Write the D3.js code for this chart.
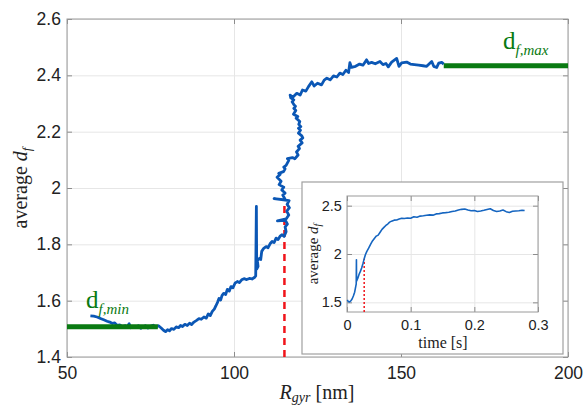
<!DOCTYPE html>
<html>
<head>
<meta charset="utf-8">
<script src="https://cdn.jsdelivr.net/npm/d3@7"></script>
<style>
  body { margin: 0; background: #fff; }
  svg { display: block; }
  .tick text { font-family: "Liberation Sans", Arial, sans-serif; fill: #222; }
  .serif { font-family: "Liberation Serif", "Times New Roman", serif; }
</style>
</head>
<body>
<svg id="chart"></svg>
<script>
// main trajectory: average fractal dimension vs radius of gyration
const rGyr = [57.0,58.0,59.0,60.2,61.0,62.0,62.8,63.6,64.3,65.0,65.8,66.6,67.4,68.0,68.6,69.1,69.8,70.6,71.4,72.1,72.8,73.5,74.2,75.0,75.8,76.6,77.4,78.2,78.9,79.5,80.1,80.7,81.3,82.0,82.7,83.4,84.0,84.6,85.3,86.0,86.7,87.3,88.0,88.8,89.5,90.2,91.0,91.7,92.3,92.9,93.5,94.1,94.6,95.1,95.5,96.0,96.4,96.9,97.5,98.0,98.6,99.1,99.7,100.3,101.0,101.6,102.3,103.0,103.8,104.6,105.4,106.1,106.5,106.7,106.8,107.2,107.0,107.6,108.0,108.3,108.9,109.6,110.2,110.8,111.4,112.0,112.6,113.2,113.8,114.4,115.0,115.6,115.3,116.0,115.4,113.0,115.6,116.4,115.8,116.6,115.9,116.5,112.0,115.4,114.6,115.3,114.3,114.9,113.5,114.1,112.9,113.8,113.4,114.8,115.3,114.9,115.6,116.4,116.0,117.5,118.2,119.2,118.7,119.6,119.2,120.4,119.8,120.6,120.3,119.3,119.9,119.3,120.0,119.4,119.7,118.6,119.1,117.8,118.5,117.9,118.4,118.0,117.4,117.9,117.0,116.8,117.6,118.8,119.8,120.5,121.5,122.3,123.3,124.0,125.0,126.2,127.0,127.8,128.8,129.8,130.8,131.7,132.6,133.5,134.3,134.7,135.2,136.4,137.6,138.6,139.7,140.3,141.2,142.3,143.7,144.6,145.5,146.2,147.2,148.7,149.4,150.2,151.7,152.8,154.0,155.3,156.6,157.7,158.4,159.2,159.8,160.7,161.3,162.2,162.8];
const dfAvg = [1.546,1.545,1.542,1.536,1.532,1.527,1.524,1.519,1.521,1.512,1.514,1.508,1.511,1.507,1.518,1.504,1.509,1.506,1.511,1.502,1.507,1.511,1.503,1.509,1.513,1.507,1.511,1.503,1.495,1.490,1.497,1.493,1.501,1.498,1.507,1.504,1.512,1.508,1.516,1.512,1.520,1.515,1.524,1.530,1.536,1.534,1.542,1.538,1.553,1.547,1.562,1.570,1.582,1.595,1.608,1.602,1.618,1.626,1.622,1.640,1.634,1.650,1.646,1.662,1.668,1.664,1.674,1.678,1.675,1.679,1.677,1.682,1.688,1.935,1.712,1.722,1.742,1.750,1.746,1.775,1.786,1.792,1.788,1.802,1.810,1.806,1.822,1.817,1.829,1.834,1.828,1.845,1.862,1.872,1.885,1.883,1.890,1.904,1.918,1.930,1.942,1.955,1.962,1.958,1.975,1.982,1.993,2.003,2.012,2.024,2.038,2.048,2.052,2.058,2.068,2.074,2.080,2.098,2.104,2.108,2.104,2.117,2.128,2.140,2.148,2.160,2.170,2.178,2.185,2.195,2.205,2.212,2.218,2.226,2.236,2.248,2.254,2.262,2.275,2.283,2.290,2.295,2.306,2.313,2.320,2.330,2.322,2.336,2.330,2.348,2.344,2.360,2.377,2.362,2.372,2.366,2.383,2.390,2.384,2.398,2.394,2.408,2.403,2.418,2.410,2.445,2.428,2.432,2.440,2.436,2.455,2.442,2.446,2.441,2.449,2.438,2.442,2.430,2.447,2.460,2.432,2.444,2.447,2.440,2.438,2.436,2.434,2.432,2.440,2.449,2.432,2.428,2.443,2.446,2.440];

// reference levels
const dfMinRange = [50, 77.2];
const dfMin = 1.507;
const dfMaxRange = [162.8, 200];
const dfMax = 2.434;
const transitionR = 115.1;
const transitionDf = 1.94;

// inset: average df vs time
const timeS = [0.0005,0.002,0.004,0.006,0.008,0.010,0.012,0.013,0.0145,0.0148,0.015,0.017,0.019,0.021,0.023,0.025,0.027,0.029,0.031,0.034,0.037,0.040,0.043,0.046,0.049,0.052,0.055,0.058,0.061,0.064,0.067,0.070,0.074,0.078,0.082,0.086,0.090,0.095,0.100,0.105,0.110,0.115,0.120,0.125,0.130,0.135,0.140,0.145,0.150,0.155,0.160,0.165,0.170,0.175,0.180,0.185,0.190,0.195,0.200,0.205,0.210,0.215,0.220,0.225,0.230,0.235,0.240,0.245,0.250,0.255,0.260,0.265,0.270,0.275,0.279];
const dfTime = [1.525,1.508,1.505,1.515,1.535,1.565,1.605,1.640,1.690,1.940,1.720,1.750,1.790,1.820,1.855,1.900,1.950,1.995,2.025,2.060,2.100,2.135,2.160,2.185,2.195,2.225,2.255,2.275,2.295,2.310,2.330,2.340,2.350,2.352,2.362,2.370,2.368,2.372,2.370,2.385,2.380,2.392,2.395,2.400,2.405,2.402,2.415,2.418,2.425,2.428,2.432,2.440,2.445,2.455,2.462,2.465,2.455,2.448,2.450,2.440,2.445,2.452,2.460,2.468,2.450,2.440,2.445,2.455,2.438,2.430,2.442,2.445,2.448,2.452,2.450];
const transitionT = 0.027;
const transitionTDf = 1.95;

const mainXTicks = [50, 100, 150, 200];
const mainYTicks = [1.4, 1.6, 1.8, 2, 2.2, 2.4, 2.6];
const insetXTicks = [0, 0.1, 0.2, 0.3];
const insetYTicks = [1.5, 2, 2.5];

const W = 585, H = 408;
const BLUE = "#0b57b5";
const GREEN = "#0a7a12";
const RED = "#f0141a";

const svg = d3.select("#chart").attr("width", W).attr("height", H);

// draws grid, box and inward ticks on all four sides (matlab style)
function setupAxes(g, x, y, xTicks, yTicks, fontSize) {
    const w = x.range()[1] - x.range()[0];
    const h = y.range()[0] - y.range()[1];
    const fmt = d3.format("~g");

    g.append("g")
        .attr("transform", `translate(0,${h})`)
        .call(d3.axisBottom(x).tickValues(xTicks).tickSize(-h).tickFormat(""))
        .call(a => a.select(".domain").remove())
        .selectAll("line").attr("stroke", "#e6e6e6");
    g.append("g")
        .call(d3.axisLeft(y).tickValues(yTicks).tickSize(-w).tickFormat(""))
        .call(a => a.select(".domain").remove())
        .selectAll("line").attr("stroke", "#e6e6e6");

    const xb = g.append("g").attr("transform", `translate(0,${h})`)
        .call(d3.axisBottom(x).tickValues(xTicks).tickSize(-5).tickPadding(fontSize * 0.55).tickFormat(fmt));
    const xt = g.append("g")
        .call(d3.axisTop(x).tickValues(xTicks).tickSize(-5).tickFormat(""));
    const yl = g.append("g")
        .call(d3.axisLeft(y).tickValues(yTicks).tickSize(-5).tickPadding(fontSize * 0.35).tickFormat(fmt));
    const yr = g.append("g").attr("transform", `translate(${w},0)`)
        .call(d3.axisRight(y).tickValues(yTicks).tickSize(-5).tickFormat(""));

    [xb, xt, yl, yr].forEach(a => {
        a.select(".domain").remove();
        a.selectAll("line").attr("stroke", "#8c8c8c");
        a.selectAll("text").style("font-size", fontSize + "px");
    });

    g.append("rect")
        .attr("width", w).attr("height", h)
        .attr("fill", "none").attr("stroke", "#9a9a9a").attr("stroke-width", 1);
}

// ---- main chart ----
const margin = {top: 19, left: 67};
const mainW = 501, mainH = 338;
const x = d3.scaleLinear().domain([50, 200]).range([0, mainW]);
const y = d3.scaleLinear().domain([1.4, 2.6]).range([mainH, 0]);

const main = svg.append("g").attr("transform", `translate(${margin.left},${margin.top})`);
setupAxes(main, x, y, mainXTicks, mainYTicks, 17.5);

const line = d3.line().x(d => x(d[0])).y(d => y(d[1]));

main.append("path")
    .datum([[transitionR, 1.4], [transitionR, transitionDf]])
    .attr("d", line)
    .attr("stroke", RED).attr("stroke-width", 2.5)
    .attr("stroke-dasharray", "7,5").attr("fill", "none");

main.append("path")
    .datum(rGyr.map((r, i) => [r, dfAvg[i]]))
    .attr("d", line)
    .attr("fill", "none").attr("stroke", BLUE)
    .attr("stroke-width", 2.8).attr("stroke-linejoin", "round");

main.append("path")
    .datum([[dfMinRange[0], dfMin], [dfMinRange[1], dfMin]])
    .attr("d", line).attr("stroke", GREEN).attr("stroke-width", 5);
main.append("path")
    .datum([[dfMaxRange[0], dfMax], [dfMaxRange[1], dfMax]])
    .attr("d", line).attr("stroke", GREEN).attr("stroke-width", 5);

function dfLabel(g, px, py, sub, size) {
    const t = g.append("text").attr("class", "serif")
        .attr("x", px).attr("y", py).attr("fill", GREEN)
        .style("font-size", size + "px");
    t.append("tspan").text("d");
    t.append("tspan").attr("dy", size * 0.22).style("font-size", (size * 0.6) + "px")
        .style("font-style", "italic").text(sub);
}
dfLabel(svg, 503, 49, "f,max", 25);
dfLabel(svg, 86, 308, "f,min", 25);

// axis titles
const xTitle = svg.append("text").attr("class", "serif")
    .attr("x", 317).attr("y", 399).attr("text-anchor", "middle")
    .style("font-size", "20px").attr("fill", "#222");
xTitle.append("tspan").style("font-style", "italic").text("R");
xTitle.append("tspan").style("font-style", "italic").style("font-size", "14px").attr("dy", 3).text("gyr");
xTitle.append("tspan").attr("dy", -3).text("  [nm]");

const yTitle = svg.append("text").attr("class", "serif")
    .attr("transform", `translate(27,${margin.top + mainH / 2}) rotate(-90)`)
    .attr("text-anchor", "middle").style("font-size", "20px").attr("fill", "#222");
yTitle.append("tspan").text("average ");
yTitle.append("tspan").style("font-style", "italic").text("d");
yTitle.append("tspan").style("font-style", "italic").style("font-size", "13px").attr("dy", 4).text("f");

// ---- inset ----
const box = {x: 302, y: 182, w: 261, h: 172};
svg.append("rect")
    .attr("x", box.x).attr("y", box.y).attr("width", box.w).attr("height", box.h)
    .attr("fill", "#fff").attr("stroke", "#a0a0a0").attr("stroke-width", 1.2);

const insetW = 191, insetH = 116;
const ix = d3.scaleLinear().domain([0, 0.3]).range([0, insetW]);
const iy = d3.scaleLinear().domain([1.4, 2.6]).range([insetH, 0]);
const inset = svg.append("g").attr("transform", "translate(347,196)");
setupAxes(inset, ix, iy, insetXTicks, insetYTicks, 14.5);

const iline = d3.line().x(d => ix(d[0])).y(d => iy(d[1]));
inset.append("path")
    .datum([[transitionT, 1.4], [transitionT, transitionTDf]])
    .attr("d", iline).attr("stroke", RED).attr("stroke-width", 1.5)
    .attr("stroke-dasharray", "2,2").attr("fill", "none");
inset.append("path")
    .datum(timeS.map((t, i) => [t, dfTime[i]]))
    .attr("d", iline).attr("fill", "none").attr("stroke", "#1565c0")
    .attr("stroke-width", 1.6).attr("stroke-linejoin", "round");

const ixTitle = svg.append("text").attr("class", "serif")
    .attr("x", 443).attr("y", 348).attr("text-anchor", "middle")
    .style("font-size", "16px").attr("fill", "#222");
ixTitle.append("tspan").text("time [s]");

const iyTitle = svg.append("text").attr("class", "serif")
    .attr("transform", `translate(318,254) rotate(-90)`)
    .attr("text-anchor", "middle").style("font-size", "15px").attr("fill", "#222");
iyTitle.append("tspan").text("average ");
iyTitle.append("tspan").style("font-style", "italic").text("d");
iyTitle.append("tspan").style("font-style", "italic").style("font-size", "10px").attr("dy", 3).text("f");
</script>
</body>
</html>
